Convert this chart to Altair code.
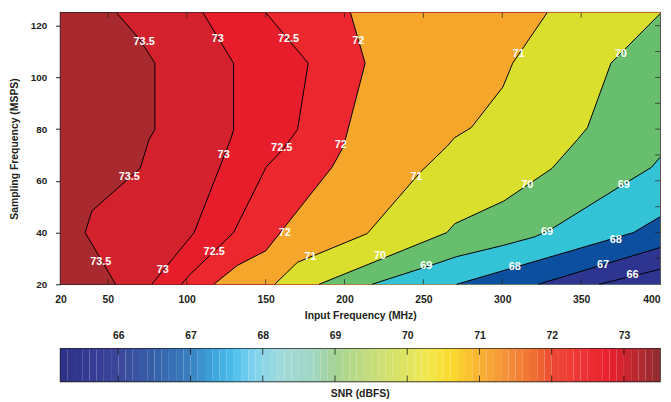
import altair as alt
import pandas as pd

FONT = "Liberation Sans"
TXT = "#231f20"

# ---- contour lines (x = input frequency MHz, y = sampling frequency MSPS)
c_bg_x = [20, 20]
c_bg_y = [125, 20]
c735_x = [55.5, 69.8, 79.8, 79.8, 76.1, 70.5, 39.9, 35.6, 54.9]
c735_y = [125, 115, 105.5, 79.8, 76, 64.8, 48.4, 40, 20]
c73_x = [110.3, 129.7, 129.7, 127.8, 104.7, 77.9]
c73_y = [125, 105.5, 79.8, 76, 40, 20]
c725_x = [150.2, 177.0, 170.2, 160.8, 150.2, 129.7, 101.6, 96.6]
c725_y = [125, 105.5, 79.8, 72.1, 65.2, 40, 23.5, 20]
c72_x = [203.8, 213.1, 199.4, 192.0, 170.2, 150.2, 132.1, 117.2]
c72_y = [125, 105.5, 73.3, 65.2, 48.4, 33.0, 27.3, 20]
c71_x = [328.4, 306.6, 300.4, 280.4, 269.8, 264.9, 248.0, 214.4, 170.2, 155.8]
c71_y = [125, 105.5, 96.3, 80.6, 76.7, 73.3, 63.3, 39.6, 28.5, 20]
c70_x = [400, 368.9, 354.0, 347.7, 331.5, 301.0, 269.8, 264.9, 183.9]
c70_y = [124.6, 105.5, 80.6, 76, 64.8, 52.2, 43.4, 40, 20]
c69_x = [400, 394.5, 375.1, 331.5, 320.9, 300.4, 271.1, 258.6, 217.5]
c69_y = [69.1, 65.2, 58.0, 41.5, 38.4, 35.0, 30.7, 28.1, 20]
c68_x = [400, 383.2, 271.1]
c68_y = [46.1, 40, 20]
c67_x = [400, 322.8]
c67_y = [34.2, 20]
c66_x = [400, 361.4]
c66_y = [25.8, 20]

contours = [
    ("bg", c_bg_x, c_bg_y, "#a8292e"),
    ("73.5", c735_x, c735_y, "#d3222d"),
    ("73", c73_x, c73_y, "#e81d2b"),
    ("72.5", c725_x, c725_y, "#ed272e"),
    ("72", c72_x, c72_y, "#f6a62a"),
    ("71", c71_x, c71_y, "#d9df2c"),
    ("70", c70_x, c70_y, "#67bf6d"),
    ("69", c69_x, c69_y, "#34c2d7"),
    ("68", c68_x, c68_y, "#0b4f9e"),
    ("67", c67_x, c67_y, "#2e3590"),
    ("66", c66_x, c66_y, "#2e3590"),
]

# ---- contour labels
lab_text = ["73.5", "73.5", "73.5", "73", "73", "73", "72.5", "72.5", "72.5",
            "72", "72", "72", "71", "71", "71", "70", "70", "70",
            "69", "69", "69", "68", "68", "67", "66"]
lab_x = [73.0, 63.6, 45.5, 119.7, 123.4, 84.8, 164.5, 160.2, 117.4,
         208.8, 197.6, 162.1, 310.3, 245.5, 178.3, 375.1, 315.9, 222.5,
         377.0, 328.4, 251.8, 372.0, 307.9, 363.9, 382.6]
lab_y = [113.7, 61.4, 28.5, 115.0, 69.8, 25.4, 115.0, 72.5, 32.3,
         113.9, 74.0, 40.0, 108.9, 61.4, 30.4, 108.9, 58.3, 31.1,
         58.3, 40.3, 26.9, 37.3, 26.5, 27.3, 23.5]

# ---- axes
x_ticks = [20, 50, 100, 150, 200, 250, 300, 350, 400]
y_ticks = [20, 30, 40, 50, 60, 70, 80, 90, 100, 110, 120, 125]
x_inner = [50, 100, 150, 200, 250, 300, 350]
y_inner = [30, 40, 50, 60, 70, 80, 90, 100, 110, 120]

# ---- colour bar
cb_stops = [65.2, 65.6, 66.0, 66.5, 67.0, 67.3, 67.6, 67.8, 68.0, 68.3, 68.7, 69.0,
            69.5, 70.0, 70.3, 70.6, 71.0, 71.4, 71.8, 72.0, 72.4, 72.8, 73.0, 73.25, 73.5]
cb_colors = ["#2e3187", "#343a92", "#3a4799", "#3560a9", "#3a80c0", "#3ea3da", "#4cc0ec",
             "#72cdee", "#8dd6e9", "#a2d9d8", "#a0d6c3", "#a5d494", "#c6dd7b", "#dfe45f",
             "#f3e84f", "#fbda2a", "#f9b233", "#f38f3a", "#ef6a31", "#ec4a34", "#ee3536",
             "#e91e2d", "#cf2530", "#b02a2f", "#8e2b2e"]
cb_ticks = [66, 67, 68, 69, 70, 71, 72, 73]
cb_lo = [round(65.2 + 0.1 * i, 1) for i in range(83)]

W = 605
H = 274
XMAX = 400

xscale = alt.Scale(domain=[20, 400], nice=False, zero=False)
yscale = alt.Scale(domain=[20, 125], nice=False, zero=False)
xaxis = alt.Axis(values=x_ticks, ticks=False, domain=False, grid=False, labelPadding=10,
                 labelFontSize=10.5, titleFontSize=10.5, titlePadding=6,
                 title="Input Frequency (MHz)",
                 labelAlign=alt.expr("datum.value == 400 ? 'right' : 'center'"))
yaxis = alt.Axis(values=y_ticks, tickSize=5, tickColor=TXT, domain=False, grid=False,
                 labelPadding=9, labelFontSize=10, titleFontSize=10.5, titlePadding=11,
                 title="Sampling Frequency (MSPS)")

layers = []
first = True
for name, xs, ys, col in contours:
    if name == "66":
        continue
    df = pd.DataFrame({"x": xs, "y": ys, "xe": [XMAX] * len(xs)})
    if first:
        enc = dict(x=alt.X("x:Q", scale=xscale, axis=xaxis),
                   y=alt.Y("y:Q", scale=yscale, axis=yaxis))
        first = False
    else:
        enc = dict(x=alt.X("x:Q"), y=alt.Y("y:Q"))
    layers.append(
        alt.Chart(df).mark_area(orient="horizontal", color=col, opacity=1)
        .encode(x2="xe:Q", **enc)
    )

line_rows = []
for name, xs, ys, col in contours[1:]:
    for i, (a, b) in enumerate(zip(xs, ys)):
        line_rows.append({"level": name, "x": a, "y": b, "i": i})
lines = alt.Chart(pd.DataFrame(line_rows)).mark_line(color="black", strokeWidth=1).encode(
    x="x:Q", y="y:Q", detail="level:N", order="i:Q")

labels = alt.Chart(pd.DataFrame({"t": lab_text, "x": lab_x, "y": lab_y})).mark_text(
    color="white", font=FONT, fontWeight="bold", fontSize=11).encode(
    x="x:Q", y="y:Q", text="t:N")

tb = pd.DataFrame({"x": x_inner, "yb": [20] * len(x_inner), "yt": [125] * len(x_inner)})
ticks_bottom = alt.Chart(tb).mark_tick(orient="vertical", color=TXT, size=5, thickness=1, yOffset=-2.5).encode(
    x="x:Q", y="yb:Q")
ticks_top = alt.Chart(tb).mark_tick(orient="vertical", color=TXT, size=5, thickness=1, yOffset=2.5).encode(
    x="x:Q", y="yt:Q")
tr = pd.DataFrame({"y": y_inner, "xr": [XMAX] * len(y_inner)})
ticks_right = alt.Chart(tr).mark_tick(
    orient="horizontal", color=TXT, size=5, thickness=1, xOffset=-2.5).encode(
    y="y:Q", x="xr:Q")

main = alt.layer(*layers, lines, labels, ticks_bottom, ticks_top, ticks_right).properties(
    width=W, height=H)

cb_df = pd.DataFrame({"lo": cb_lo,
                      "hi": [round(v + 0.1, 1) for v in cb_lo],
                      "mid": [round(v + 0.05, 2) for v in cb_lo]})
cb_scale = alt.Scale(domain=[65.2, 73.5], nice=False, zero=False)
cb_rect = alt.Chart(cb_df).mark_rect().encode(
    x=alt.X("lo:Q", scale=cb_scale,
            axis=alt.Axis(orient="top", values=cb_ticks, format="d", ticks=False, domain=False,
                          grid=False, labelPadding=8, labelFontSize=10.5, title=None)),
    x2="hi:Q",
    color=alt.Color("mid:Q", scale=alt.Scale(domain=cb_stops, range=cb_colors, interpolate="rgb"),
                    legend=None),
)
ct = pd.DataFrame({"v": cb_ticks})
cb_t1 = alt.Chart(ct).mark_tick(orient="vertical", color="black", size=6, thickness=1, yOffset=3).encode(
    x="v:Q", y=alt.value(0))
cb_t2 = alt.Chart(ct).mark_tick(orient="vertical", color="black", size=6, thickness=1, yOffset=-3).encode(
    x="v:Q", y=alt.value(33))
colorbar = alt.layer(cb_rect, cb_t1, cb_t2).properties(
    width=W, height=33,
    title=alt.TitleParams("SNR (dBFS)", orient="bottom", font=FONT, fontSize=10.5,
                          fontWeight="bold", color=TXT, offset=8))

chart = alt.vconcat(main, colorbar, spacing=8).properties(
    padding={"left": 0, "top": 0, "right": 0, "bottom": 0}
).configure_axis(
    labelFont=FONT, titleFont=FONT, labelFontWeight="bold", titleFontWeight="bold",
    labelColor=TXT, titleColor=TXT
).configure_view(stroke=TXT, strokeWidth=1.5)

chart.save("out.html", embed_options={"renderer": "svg", "actions": False})
